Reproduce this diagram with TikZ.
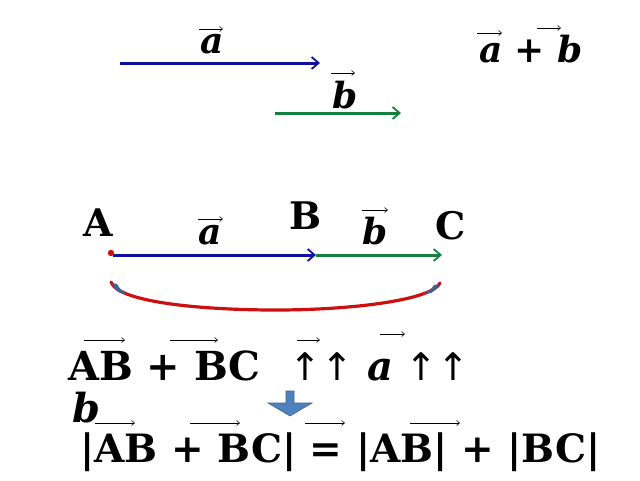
\documentclass[tikz,border=0pt]{standalone}
\usepackage{fontspec}
\setmainfont{DejaVu Serif}
\newfontfamily\symfont{DejaVu Sans}
\usetikzlibrary{arrows.meta}
\definecolor{vblue}{HTML}{1010A0}
\definecolor{vgreen}{HTML}{138040}
\definecolor{vred}{HTML}{CC1010}
\definecolor{dblue}{HTML}{4F81BD}
\definecolor{dbluel}{HTML}{3A6491}
\tikzset{
  vecA/.style={line width=3pt, vblue, -{Straight Barb[length=7pt,width=12pt,line width=1.8pt]}},
  vecB/.style={line width=3pt, vgreen, -{Straight Barb[length=7pt,width=12pt,line width=1.8pt]}},
  overarr/.style={line width=0.7pt, black, -{Straight Barb[length=3pt,width=5pt,line width=0.6pt]}},
  vlab/.style={font=\fontsize{36}{40}\selectfont\bfseries\itshape, anchor=base, inner sep=0pt},
  plab/.style={font=\fontsize{38}{40}\selectfont\bfseries, anchor=base, inner sep=0pt},
  eq/.style={font=\fontsize{40}{44}\selectfont\bfseries, anchor=base west, inner sep=0pt},
}
\begin{document}
\begin{tikzpicture}[x=1pt,y=-1pt]
\useasboundingbox (0,0) rectangle (640,480);
% top vectors
\coordinate (a1) at (120,63); \coordinate (a2) at (320,63);
\coordinate (b1) at (275,113); \coordinate (b2) at (401,113);
\draw[vecA] (a1) -- (a2);
\draw[vecB] (b1) -- (b2);
\node[vlab] (ta) at (212,53) {a};
\draw[overarr] (199,29) -- (223,29);
\node[vlab] (tb) at (345,108) {b};
\draw[overarr] (331,73) -- (355,73);
\node[vlab] (tab) at (531,62) {a + b};
\draw[overarr] (477,33) -- (502,33);
\draw[overarr] (537,28) -- (561,28);
% middle
\node[plab] (A) at (98,236) {A};
\node[plab] (B) at (306,229) {B};
\node[plab] (C) at (451,239) {C};
\coordinate (pA) at (113,255); \coordinate (pB) at (316,255); \coordinate (pC) at (442,255);
\fill[vred] (111,253) circle (3.2);
\draw[vecA] (pA) -- (pB);
\draw[vecB] (pB) -- (pC);
\node[vlab] (ma) at (210,244) {a};
\draw[overarr] (198,219) -- (223,219);
\node[vlab] (mb) at (375,244) {b};
\draw[overarr] (362,210) -- (388,210);
% brace
\draw[vred, line width=3.2pt, line cap=round] (111,282) .. controls (118,302) and (200,310) .. (276,310) .. controls (352,310) and (432,300) .. (440,283);
\fill[dbluel] (112,283) -- (117,284) .. controls (120,290) and (124,292) .. (128,294) -- (120,293) .. controls (115,290) and (113,287) .. cycle;
\fill[dbluel] (439,284) -- (434,285) .. controls (431,290) and (427,292) .. (423,294) -- (431,293) .. controls (436,290) and (438,287) .. cycle;
% bottom line 1
\node[eq] (l1) at (68,380) {AB + BC};
\node[eq, font=\fontsize{38}{40}\selectfont\symfont] (u1) at (289,380) {↑↑};
\node[vlab, anchor=base west, font=\fontsize{40}{44}\selectfont\bfseries\itshape] (la) at (367,380) {a};
\node[eq, font=\fontsize{38}{40}\selectfont\symfont] (u2) at (405,380) {↑↑};
\node[vlab, anchor=base west, font=\fontsize{40}{44}\selectfont\bfseries\itshape] (lb) at (72,422) {b};
\draw[overarr] (84,340) -- (125,340);
\draw[overarr] (170,340) -- (218,340);
\draw[overarr] (297,340) -- (320,340);
\draw[overarr] (380,334) -- (405,334);
% down arrow
\draw[dbluel, fill=dblue, line width=0.6pt] (286,391) -- (294,391) -- (294,403) -- (312,403) -- (290,416) -- (268,403) -- (286,403) -- cycle;
% bottom line 2
\node[eq, font=\fontsize{39}{44}\selectfont\bfseries] (l2) at (80,462) {|AB + BC| = |AB| + |BC|};
\draw[overarr] (95,423) -- (135,423);
\draw[overarr] (190,423) -- (240,423);
\draw[overarr] (305,423) -- (345,423);
\draw[overarr] (410,423) -- (460,423);
\end{tikzpicture}
\end{document}
